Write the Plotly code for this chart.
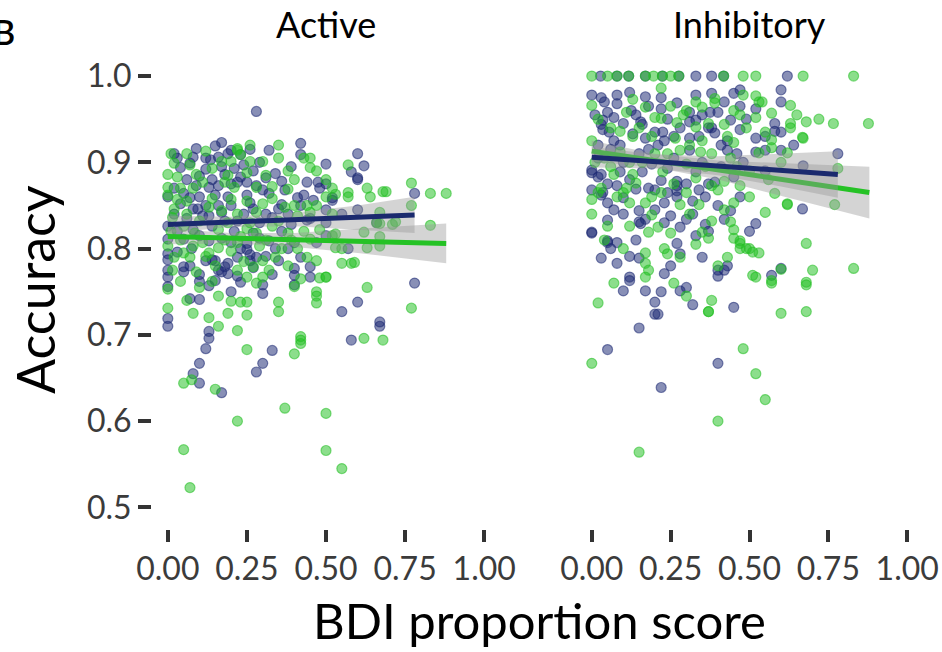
import plotly.graph_objects as go

# ---------------- Data: BDI proportion score vs accuracy ----------------
# Active condition, blue group
act_blue_x = [0.28, 0.17, 0.42, 0.02, 0.32, 0.60, 0.50, 0.62, 0.60, 0.78, 0.78, 0.60, 0.55, 0.67, 0.45, 0.475, 0.48, 0.52, 0.46, 0.57, 0.60,
              0.15, 0.20, 0.23, 0.42, 0.08, 0.135, 0.16, 0.07, 0.04, 0.12, 0.17, 0.23, 0.27, 0.34, 0.28, 0.25, 0.22, 0.20, 0.16, 0.13, 0.09,
              0.05, 0.00, 0.07, 0.10, 0.15, 0.19, 0.25, 0.30, 0.32, 0.37, 0.44, 0.43, 0.41, 0.12, 0.16, 0.20, 0.26, 0.36, 0.095, 0.35,
              0.02, 0.06, 0.11, 0.18, 0.24, 0.29, 0.33, 0.39, 0.44, 0.50, 0.00, 0.08, 0.14, 0.21, 0.27, 0.36, 0.55, 0.66,
              0.00, 0.05, 0.13, 0.20, 0.25, 0.32, 0.40, 0.47, 0.00, 0.03, 0.075, 0.25, 0.26, 0.12, 0.15, 0.18, 0.22, 0.26, 0.31, 0.35, 0.40,
              0.45, 0.00, 0.05, 0.16, 0.19,
              0.00, 0.00, 0.00, 0.00, 0.05, 0.07, 0.10, 0.10, 0.13, 0.17, 0.19, 0.20, 0.30, 0.30, 0.27, 0.40, 0.40, 0.14, 0.23, 0.15,
              0.13, 0.13, 0.12, 0.10, 0.08, 0.10, 0.17, 0.33, 0.30, 0.28, 0.58, 0.67, 0.00,
              0.58, 0.60, 0.52, 0.50, 0.50,
              0.03, 0.06, 0.10, 0.14, 0.18, 0.21, 0.24, 0.29, 0.31, 0.36, 0.39, 0.02, 0.04, 0.08, 0.13, 0.17, 0.22, 0.27, 0.31, 0.38,
              0.42, 0.03, 0.10, 0.17, 0.23, 0.29, 0.34, 0.42, 0.07, 0.10, 0.22, 0.28, 0.33, 0.38, 0.12, 0.19, 0.26, 0.09, 0.45, 0.50]
act_blue_y = [0.959, 0.923, 0.922, 0.910, 0.914, 0.910, 0.898, 0.896, 0.880, 0.864, 0.760, 0.738, 0.727, 0.715, 0.767, 0.877, 0.870, 0.856, 0.856, 0.800, 0.845,
              0.919, 0.914, 0.909, 0.909, 0.906, 0.903, 0.906, 0.899, 0.894, 0.892, 0.895, 0.883, 0.890, 0.887, 0.873, 0.877, 0.877, 0.875, 0.873, 0.871, 0.873,
              0.864, 0.860, 0.859, 0.860, 0.862, 0.860, 0.862, 0.868, 0.864, 0.868, 0.877, 0.862, 0.859, 0.850, 0.850, 0.850, 0.853, 0.851, 0.846, 0.846,
              0.840, 0.835, 0.838, 0.832, 0.840, 0.830, 0.836, 0.828, 0.833, 0.830, 0.826, 0.822, 0.826, 0.820, 0.818, 0.820, 0.840, 0.830,
              0.811, 0.811, 0.809, 0.807, 0.806, 0.809, 0.807, 0.807, 0.794, 0.796, 0.800, 0.799, 0.793, 0.786, 0.786, 0.779, 0.790, 0.786, 0.791, 0.786, 0.777,
              0.779, 0.775, 0.779, 0.775, 0.783,
              0.787, 0.767, 0.756, 0.719, 0.773, 0.742, 0.741, 0.762, 0.757, 0.773, 0.771, 0.750, 0.748, 0.758, 0.778, 0.769, 0.758, 0.787, 0.761, 0.763,
              0.704, 0.696, 0.684, 0.667, 0.655, 0.644, 0.633, 0.682, 0.667, 0.657, 0.694, 0.710, 0.710,
              0.889, 0.882, 0.859, 0.875, 0.815,
              0.905, 0.880, 0.884, 0.880, 0.886, 0.893, 0.897, 0.900, 0.882, 0.878, 0.895, 0.870, 0.852, 0.846, 0.838, 0.842, 0.832, 0.846, 0.840, 0.840,
              0.850, 0.820, 0.815, 0.812, 0.800, 0.812, 0.800, 0.790, 0.780, 0.770, 0.768, 0.790, 0.770, 0.800, 0.905, 0.910, 0.915, 0.916, 0.835, 0.845]

# Active condition, green group
act_green_x = [0.83, 0.88, 0.77, 0.68, 0.64, 0.63, 0.83, 0.77, 0.57, 0.57, 0.45, 0.55, 0.58, 0.63, 0.71, 0.66, 0.50, 0.47, 0.47, 0.47, 0.77,
               0.57, 0.53, 0.69, 0.67, 0.72, 0.67, 0.62, 0.53, 0.67, 0.67, 0.63, 0.53, 0.59, 0.48,
               0.02, 0.00, 0.03, 0.07, 0.09, 0.17, 0.20, 0.22, 0.23, 0.18, 0.26, 0.30, 0.38, 0.43, 0.45, 0.47, 0.00, 0.00, 0.11, 0.21,
               0.28, 0.38, 0.44, 0.47, 0.02, 0.17, 0.22, 0.28, 0.37, 0.41, 0.45, 0.015, 0.085, 0.16, 0.23, 0.28, 0.33, 0.38, 0.45, 0.48,
               0.00, 0.08, 0.16, 0.22, 0.29, 0.36, 0.41, 0.02, 0.07, 0.12, 0.20, 0.30, 0.34, 0.44, 0.015, 0.09, 0.22, 0.27, 0.47, 0.22,
               0.06, 0.12, 0.35, 0.26, 0.31, 0.14, 0.06, 0.25, 0.33, 0.10, 0.19, 0.26, 0.05,
               0.00, 0.00, 0.08, 0.04, 0.14, 0.20, 0.23, 0.25, 0.25, 0.19, 0.30, 0.35, 0.35, 0.40, 0.50, 0.25, 0.16, 0.13,
               0.05, 0.075, 0.15, 0.22, 0.05, 0.07, 0.37, 0.50, 0.50, 0.55, 0.42, 0.42, 0.42, 0.40, 0.25, 0.22, 0.16, 0.62, 0.68,
               0.01, 0.04, 0.08, 0.14, 0.19, 0.25, 0.33, 0.35, 0.40, 0.50, 0.52, 0.06, 0.13, 0.20, 0.30, 0.35, 0.40, 0.50, 0.04, 0.11,
               0.18, 0.25, 0.31, 0.39, 0.43, 0.52, 0.05, 0.15, 0.24, 0.32, 0.38, 0.42, 0.10, 0.06, 0.55, 0.52, 0.01, 0.03, 0.13, 0.28]
act_green_y = [0.864, 0.864, 0.876, 0.866, 0.860, 0.870, 0.827, 0.850, 0.860, 0.897, 0.905, 0.783, 0.783, 0.755, 0.828, 0.830, 0.767, 0.745, 0.737, 0.750, 0.731,
               0.865, 0.863, 0.866, 0.842, 0.831, 0.829, 0.819, 0.817, 0.814, 0.803, 0.801, 0.801, 0.784, 0.766,
               0.899, 0.886, 0.883, 0.897, 0.886, 0.901, 0.901, 0.914, 0.909, 0.877, 0.901, 0.901, 0.890, 0.905, 0.894, 0.890, 0.871, 0.862, 0.877, 0.871,
               0.871, 0.869, 0.850, 0.850, 0.846, 0.844, 0.840, 0.842, 0.848, 0.838, 0.842, 0.836, 0.818, 0.822, 0.814, 0.818, 0.826, 0.818, 0.811, 0.822,
               0.803, 0.803, 0.801, 0.807, 0.803, 0.800, 0.800, 0.790, 0.790, 0.791, 0.797, 0.786, 0.790, 0.790, 0.775, 0.773, 0.775, 0.779, 0.786, 0.916,
               0.910, 0.913, 0.920, 0.920, 0.885, 0.858, 0.855, 0.855, 0.858, 0.832, 0.830, 0.830, 0.826,
               0.753, 0.731, 0.725, 0.762, 0.762, 0.739, 0.738, 0.738, 0.723, 0.725, 0.767, 0.738, 0.727, 0.756, 0.767, 0.767, 0.745, 0.720,
               0.644, 0.648, 0.637, 0.600, 0.567, 0.523, 0.615, 0.609, 0.566, 0.545, 0.698, 0.694, 0.690, 0.678, 0.683, 0.705, 0.710, 0.696, 0.694,
               0.910, 0.870, 0.870, 0.893, 0.885, 0.888, 0.872, 0.905, 0.880, 0.880, 0.870, 0.840, 0.848, 0.857, 0.852, 0.832, 0.850, 0.860, 0.810, 0.807,
               0.810, 0.823, 0.810, 0.810, 0.820, 0.815, 0.795, 0.780, 0.785, 0.775, 0.780, 0.765, 0.755, 0.740, 0.800, 0.840, 0.820, 0.857, 0.795, 0.760]

# Inhibitory condition, blue group
inh_blue_x = [0.028, 0.08, 0.117, 0.17, 0.224, 0.276, 0.33, 0.38, 0.418, 0.62,
              0.00, 0.03, 0.08, 0.12, 0.22, 0.17, 0.33, 0.38, 0.45, 0.47, 0.05, 0.08, 0.125, 0.27, 0.31, 0.375, 0.40, 0.47,
              0.035, 0.07, 0.155, 0.16, 0.22, 0.33, 0.37, 0.44, 0.03, 0.055, 0.035, 0.17, 0.20, 0.225, 0.31, 0.31, 0.38, 0.39,
              0.43, 0.47, 0.07, 0.13, 0.21, 0.23, 0.31, 0.43,
              0.60, 0.60, 0.58, 0.60, 0.78, 0.668, 0.52, 0.60, 0.57, 0.45, 0.43, 0.42, 0.52, 0.55, 0.55, 0.60, 0.52, 0.52, 0.67, 0.58,
              0.02, 0.10, 0.15, 0.19, 0.26, 0.35, 0.41, 0.48, 0.06, 0.24,
              0.00, 0.03, 0.09, 0.16, 0.22, 0.27, 0.27, 0.30, 0.33, 0.37, 0.39, 0.45, 0.08, 0.14, 0.035, 0.20, 0.27, 0.34,
              0.00, 0.03, 0.05, 0.07, 0.10, 0.15, 0.15, 0.17, 0.23, 0.25, 0.27, 0.30, 0.32, 0.36, 0.36, 0.37, 0.42, 0.44, 0.155, 0.23,
              0.27, 0.28,
              0.00, 0.05, 0.08, 0.03, 0.08, 0.12, 0.15, 0.23, 0.12, 0.12, 0.10, 0.17, 0.22, 0.20, 0.20, 0.21, 0.28, 0.30, 0.32,
              0.40, 0.40, 0.15, 0.05, 0.22, 0.40, 0.00, 0.02, 0.05, 0.00, 0.05,
              0.01, 0.04, 0.10, 0.14, 0.18, 0.24, 0.28, 0.35, 0.42, 0.49, 0.02, 0.09, 0.18, 0.26, 0.34, 0.41, 0.46, 0.05, 0.12, 0.18,
              0.24, 0.32, 0.40, 0.47, 0.10, 0.20, 0.28, 0.33, 0.06, 0.14, 0.25, 0.35, 0.50, 0.55, 0.64]
inh_blue_y = [1.000, 1.000, 1.000, 1.000, 1.000, 1.000, 1.000, 1.000, 1.000, 1.000,
              0.978, 0.975, 0.978, 0.981, 0.975, 0.976, 0.978, 0.980, 0.980, 0.984, 0.958, 0.968, 0.960, 0.969, 0.958, 0.958, 0.958, 0.965,
              0.949, 0.952, 0.947, 0.944, 0.962, 0.949, 0.940, 0.949, 0.944, 0.935, 0.938, 0.928, 0.935, 0.935, 0.928, 0.947, 0.940, 0.934,
              0.925, 0.938, 0.925, 0.933, 0.920, 0.925, 0.914, 0.914,
              0.984, 0.970, 0.945, 0.935, 0.910, 0.846, 0.829, 0.777, 0.769, 0.732, 0.780, 0.775, 0.962, 0.930, 0.914, 0.914, 0.928, 0.912, 0.896, 0.936,
              0.905, 0.900, 0.910, 0.898, 0.905, 0.900, 0.895, 0.900, 0.915, 0.893,
              0.891, 0.886, 0.889, 0.889, 0.879, 0.878, 0.873, 0.875, 0.889, 0.875, 0.877, 0.883, 0.873, 0.869, 0.865, 0.868, 0.867, 0.868,
              0.868, 0.862, 0.853, 0.845, 0.859, 0.844, 0.831, 0.834, 0.853, 0.838, 0.860, 0.834, 0.840, 0.860, 0.828, 0.820, 0.834, 0.844, 0.829, 0.830,
              0.806, 0.794,
              0.818, 0.807, 0.807, 0.789, 0.783, 0.791, 0.789, 0.771, 0.767, 0.763, 0.751, 0.751, 0.750, 0.738, 0.724, 0.724, 0.751, 0.755, 0.735,
              0.775, 0.768, 0.708, 0.683, 0.639, 0.667, 0.888, 0.883, 0.833, 0.819, 0.809,
              0.955, 0.970, 0.945, 0.955, 0.965, 0.950, 0.940, 0.955, 0.970, 0.950, 0.920, 0.920, 0.915, 0.930, 0.930, 0.920, 0.910, 0.875, 0.880, 0.870,
              0.865, 0.855, 0.850, 0.860, 0.840, 0.845, 0.825, 0.815, 0.800, 0.810, 0.780, 0.790, 0.820, 0.890, 0.920]

# Inhibitory condition, green group
inh_green_x = [0.00, 0.05, 0.08, 0.117, 0.196, 0.25, 0.276, 0.418, 0.48, 0.52, 0.67, 0.83, 0.17, 0.224,
               0.00, 0.22, 0.39, 0.48, 0.13, 0.17, 0.30, 0.35, 0.39, 0.45, 0.22, 0.20, 0.27, 0.33, 0.42, 0.47, 0.09, 0.13, 0.265,
               0.35, 0.45, 0.00, 0.28, 0.31, 0.345, 0.38,
               0.877, 0.766, 0.72, 0.68, 0.668, 0.63, 0.63, 0.78, 0.77, 0.62, 0.58, 0.55, 0.68, 0.70, 0.83, 0.68, 0.68, 0.60, 0.57,
               0.52, 0.53, 0.50, 0.47, 0.37, 0.52, 0.53, 0.54, 0.57, 0.52, 0.63, 0.55, 0.57, 0.67, 0.57, 0.62, 0.53, 0.62, 0.51,
               0.60, 0.51, 0.57, 0.68,
               0.04, 0.12, 0.20, 0.30, 0.44, 0.09, 0.50,
               0.07, 0.13, 0.14, 0.225, 0.33, 0.38, 0.42, 0.47, 0.02, 0.10, 0.22, 0.30, 0.40,
               0.00, 0.08, 0.12, 0.17, 0.19, 0.28, 0.34, 0.38, 0.45, 0.45, 0.47, 0.00, 0.18, 0.12, 0.25, 0.35, 0.37, 0.45, 0.47,
               0.49, 0.44, 0.23, 0.24, 0.05,
               0.17, 0.17, 0.18, 0.17, 0.02, 0.30, 0.38, 0.37, 0.40, 0.00, 0.15, 0.48, 0.52, 0.55, 0.40,
               0.02, 0.06, 0.11, 0.15, 0.19, 0.25, 0.29, 0.33, 0.37, 0.43, 0.49, 0.01, 0.06, 0.16, 0.24, 0.36, 0.46, 0.03, 0.11, 0.19,
               0.26, 0.31, 0.42, 0.50, 0.04, 0.10, 0.21, 0.28, 0.33, 0.43, 0.56, 0.60, 0.65, 0.07, 0.26]
inh_green_y = [1.000, 1.000, 1.000, 1.000, 1.000, 1.000, 1.000, 1.000, 1.000, 1.000, 1.000, 1.000, 1.000, 1.000,
               0.966, 0.986, 0.974, 0.978, 0.973, 0.964, 0.960, 0.964, 0.969, 0.960, 0.951, 0.952, 0.946, 0.941, 0.944, 0.955, 0.936, 0.930, 0.928,
               0.925, 0.923, 0.925, 0.914, 0.920, 0.912, 0.910,
               0.945, 0.945, 0.950, 0.947, 0.929, 0.966, 0.940, 0.893, 0.851, 0.851, 0.864, 0.842, 0.806, 0.775, 0.777, 0.758, 0.727, 0.725, 0.760,
               0.767, 0.795, 0.800, 0.806, 0.727, 0.977, 0.970, 0.970, 0.957, 0.952, 0.945, 0.935, 0.926, 0.928, 0.917, 0.911, 0.911, 0.852, 0.796,
               0.776, 0.769, 0.763, 0.761,
               0.905, 0.900, 0.910, 0.898, 0.905, 0.912, 0.890,
               0.886, 0.886, 0.876, 0.889, 0.882, 0.873, 0.878, 0.873, 0.865, 0.865, 0.865, 0.865, 0.868,
               0.857, 0.860, 0.853, 0.853, 0.839, 0.851, 0.851, 0.832, 0.853, 0.822, 0.800, 0.840, 0.819, 0.826, 0.818, 0.819, 0.812, 0.812, 0.809,
               0.800, 0.831, 0.800, 0.794, 0.826,
               0.795, 0.783, 0.775, 0.767, 0.737, 0.745, 0.740, 0.727, 0.780, 0.667, 0.564, 0.684, 0.655, 0.625, 0.600,
               0.950, 0.940, 0.958, 0.940, 0.930, 0.965, 0.955, 0.970, 0.945, 0.930, 0.940, 0.900, 0.895, 0.900, 0.910, 0.895, 0.895, 0.870, 0.870, 0.860,
               0.875, 0.840, 0.845, 0.860, 0.810, 0.800, 0.825, 0.790, 0.805, 0.790, 0.880, 0.900, 0.955, 0.760, 0.760]

# Linear fits with 95% confidence bands (fit, lower, upper)
act_blue_fx = [0.00, 0.20, 0.40, 0.60, 0.78]
act_blue_fit = [0.828, 0.831, 0.834, 0.836, 0.839]
act_blue_lo = [0.818, 0.825, 0.826, 0.822, 0.818]
act_blue_hi = [0.838, 0.837, 0.842, 0.850, 0.860]

act_green_fx = [0.00, 0.20, 0.40, 0.60, 0.88]
act_green_fit = [0.814, 0.812, 0.810, 0.809, 0.806]
act_green_lo = [0.805, 0.806, 0.802, 0.795, 0.783]
act_green_hi = [0.823, 0.818, 0.818, 0.823, 0.829]

inh_blue_fx = [0.00, 0.20, 0.40, 0.60, 0.78]
inh_blue_fit = [0.906, 0.901, 0.896, 0.891, 0.886]
inh_blue_lo = [0.894, 0.893, 0.885, 0.872, 0.859]
inh_blue_hi = [0.918, 0.909, 0.907, 0.910, 0.913]

inh_green_fx = [0.00, 0.20, 0.40, 0.60, 0.88]
inh_green_fit = [0.913, 0.902, 0.891, 0.880, 0.865]
inh_green_lo = [0.901, 0.894, 0.880, 0.861, 0.835]
inh_green_hi = [0.925, 0.910, 0.902, 0.899, 0.895]

x_ticks = [0.0, 0.25, 0.5, 0.75, 1.0]
x_tick_labels = ["0.00", "0.25", "0.50", "0.75", "1.00"]
y_ticks = [0.5, 0.6, 0.7, 0.8, 0.9, 1.0]
y_tick_labels = ["0.5", "0.6", "0.7", "0.8", "0.9", "1.0"]
facet_titles = ["Active", "Inhibitory"]

# ---------------- Styling ----------------
FONT = "Lato, 'Open Sans', sans-serif"
BLUE = (27, 40, 115)
GREEN = (34, 192, 34)
BLUE_LINE = "#1b2a6e"
GREEN_LINE = "#25c225"
BAND = "rgba(153,153,153,0.42)"


def rgba(c, a):
    return f"rgba({c[0]},{c[1]},{c[2]},{a})"


fig = go.Figure()


def add_points(x, y, col, xa):
    fig.add_trace(go.Scatter(
        x=x, y=y, mode="markers", xaxis=xa, yaxis="y", showlegend=False, hoverinfo="skip",
        marker=dict(size=10, color=rgba(col, 0.52), line=dict(width=1.2, color=rgba(col, 0.55))),
    ))


def add_fit(fx, fit, lo, hi, line_col, xa):
    fig.add_trace(go.Scatter(
        x=list(fx) + list(fx)[::-1], y=list(hi) + list(lo)[::-1], mode="lines", fill="toself",
        fillcolor=BAND, line=dict(width=0), xaxis=xa, yaxis="y", showlegend=False, hoverinfo="skip",
    ))
    fig.add_trace(go.Scatter(
        x=fx, y=fit, mode="lines", line=dict(color=line_col, width=5),
        xaxis=xa, yaxis="y", showlegend=False, hoverinfo="skip",
    ))


add_points(act_blue_x, act_blue_y, BLUE, "x")
add_points(act_green_x, act_green_y, GREEN, "x")
add_points(inh_blue_x, inh_blue_y, BLUE, "x2")
add_points(inh_green_x, inh_green_y, GREEN, "x2")

add_fit(act_green_fx, act_green_fit, act_green_lo, act_green_hi, GREEN_LINE, "x")
add_fit(act_blue_fx, act_blue_fit, act_blue_lo, act_blue_hi, BLUE_LINE, "x")
add_fit(inh_green_fx, inh_green_fit, inh_green_lo, inh_green_hi, GREEN_LINE, "x2")
add_fit(inh_blue_fx, inh_blue_fit, inh_blue_lo, inh_blue_hi, BLUE_LINE, "x2")

W, H = 942, 652
left_dom = [152 / W, 500 / W]
right_dom = [576 / W, 923 / W]
y_dom = [1 - 529 / H, 1 - 54.5 / H]

xaxis_common = dict(
    range=[-0.05, 1.05], tickvals=x_ticks, ticktext=x_tick_labels,
    ticks="outside", ticklen=12, tickwidth=3.5, tickcolor="#333333",
    showgrid=False, zeroline=False, showline=False, anchor="y", automargin=False,
    tickfont=dict(family=FONT, size=32, color="#3b3b3b"),
)

fig.update_layout(
    width=W, height=H,
    margin=dict(l=0, r=0, t=0, b=0),
    paper_bgcolor="white", plot_bgcolor="white",
    xaxis=dict(domain=left_dom, **xaxis_common),
    xaxis2=dict(domain=right_dom, **xaxis_common),
    yaxis=dict(
        domain=y_dom, range=[0.475, 1.025], tickvals=y_ticks, ticktext=y_tick_labels,
        ticks="outside", ticklen=13, tickwidth=3.5, tickcolor="#333333",
        showgrid=False, zeroline=False, showline=False, anchor="x", automargin=False,
        tickfont=dict(family=FONT, size=32, color="#3b3b3b"),
    ),
    annotations=[
        dict(text=facet_titles[0], x=sum(left_dom) / 2, y=1, xref="paper", yref="paper",
             xanchor="center", yanchor="top", showarrow=False,
             font=dict(family=FONT, size=36, color="black")),
        dict(text=facet_titles[1], x=sum(right_dom) / 2, y=1, xref="paper", yref="paper",
             xanchor="center", yanchor="top", showarrow=False,
             font=dict(family=FONT, size=36, color="black")),
        dict(text="BDI proportion score", x=539 / W, y=1 - 620 / H, xref="paper", yref="paper",
             xanchor="center", yanchor="middle", showarrow=False,
             font=dict(family=FONT, size=49, color="black")),
        dict(text="Accuracy", x=35 / W, y=1 - 290 / H, xref="paper", yref="paper",
             xanchor="center", yanchor="middle", textangle=-90, showarrow=False,
             font=dict(family=FONT, size=52, color="black")),
        dict(text="B", x=-9 / W, y=1 - 31 / H, xref="paper", yref="paper",
             xanchor="left", yanchor="middle", showarrow=False,
             font=dict(family="Lato Semibold, Lato, sans-serif", size=34, color="black")),
    ],
)

fig.write_html("out.html")
